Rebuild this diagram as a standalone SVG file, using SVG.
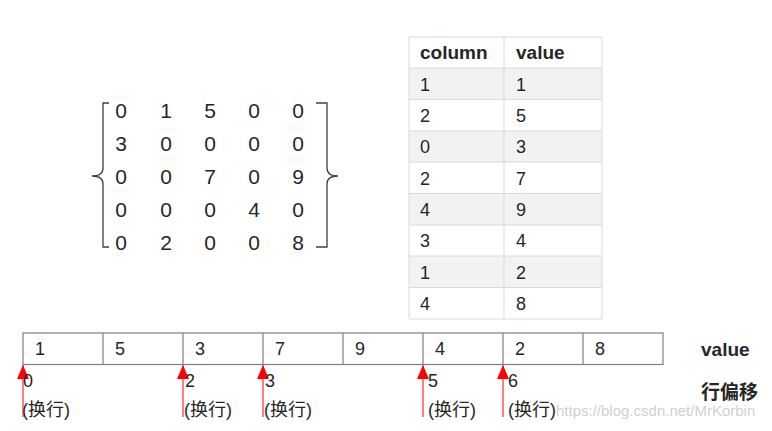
<svg xmlns="http://www.w3.org/2000/svg" width="772" height="431" viewBox="0 0 772 431">
<style>
.t{font-family:"Liberation Sans","Noto Sans CJK SC",Arial,sans-serif;fill:#262626}
.m{font-size:21px;text-anchor:middle}
.c{font-size:18px}
.h{font-size:19px;font-weight:bold}
.grid{stroke:#d9d9d9;stroke-width:1;fill:none}
.cell{fill:#fff;stroke:#7f7f7f;stroke-width:1.2}
.br{fill:none;stroke:#404040;stroke-width:1.3}
.arr{stroke:#ff0000;stroke-width:1;fill:none}
.wm{font-family:"Liberation Sans",Arial,sans-serif;font-size:15px;fill:#d0d0d0}
</style>
<defs>
<marker id="ah" markerWidth="14" markerHeight="12" refX="14" refY="6" orient="auto" markerUnits="userSpaceOnUse" viewBox="0 0 14 12">
<path d="M0,0 L14,6 L0,12 Z" fill="#ff0000"/>
</marker>
</defs>
<rect width="772" height="431" fill="#fff"/>

<g id="matrix">
<path class="br" d="M109,103 H103 V168 Q103,176 92,176 Q103,176 103,184 V247 H109"/>
<path class="br" d="M316,103 H327 V168 Q327,176 338,176 Q327,176 327,184 V247 H316"/>
<g class="t m">
<text x="121" y="118">0</text><text x="166" y="118">1</text><text x="210" y="118">5</text><text x="254" y="118">0</text><text x="298" y="118">0</text>
<text x="121" y="151">3</text><text x="166" y="151">0</text><text x="210" y="151">0</text><text x="254" y="151">0</text><text x="298" y="151">0</text>
<text x="121" y="184">0</text><text x="166" y="184">0</text><text x="210" y="184">7</text><text x="254" y="184">0</text><text x="298" y="184">9</text>
<text x="121" y="217">0</text><text x="166" y="217">0</text><text x="210" y="217">0</text><text x="254" y="217">4</text><text x="298" y="217">0</text>
<text x="121" y="250">0</text><text x="166" y="250">2</text><text x="210" y="250">0</text><text x="254" y="250">0</text><text x="298" y="250">8</text>
</g>
</g>

<g id="table">
<rect x="409" y="68" width="193" height="31.4" fill="#f2f2f2"/>
<rect x="409" y="131" width="193" height="31.3" fill="#f2f2f2"/>
<rect x="409" y="193.5" width="193" height="31.3" fill="#f2f2f2"/>
<rect x="409" y="256" width="193" height="31.4" fill="#f2f2f2"/>
<path class="grid" d="M409,37 H602 M409,68 H602 M409,99.5 H602 M409,131 H602 M409,162 H602 M409,193.5 H602 M409,225 H602 M409,256 H602 M409,287.5 H602 M409,319 H602 M409,37 V319 M504,37 V319 M602,37 V319"/>
<text class="t h" x="420" y="59">column</text><text class="t h" x="516" y="59">value</text>
<g class="t c">
<text x="420" y="91">1</text><text x="516" y="91">1</text>
<text x="420" y="122">2</text><text x="516" y="122">5</text>
<text x="420" y="153">0</text><text x="516" y="153">3</text>
<text x="420" y="185">2</text><text x="516" y="185">7</text>
<text x="420" y="216">4</text><text x="516" y="216">9</text>
<text x="420" y="247">3</text><text x="516" y="247">4</text>
<text x="420" y="279">1</text><text x="516" y="279">2</text>
<text x="420" y="310">4</text><text x="516" y="310">8</text>
</g>
</g>

<g id="array">
<rect class="cell" x="23" y="333" width="640" height="31.5"/>
<path class="cell" d="M103,333 V364.5 M183,333 V364.5 M263,333 V364.5 M343,333 V364.5 M423,333 V364.5 M503,333 V364.5 M583,333 V364.5"/>
<g class="t c">
<text x="35" y="355">1</text><text x="115" y="355">5</text><text x="195" y="355">3</text><text x="275" y="355">7</text>
<text x="355" y="355">9</text><text x="435" y="355">4</text><text x="515" y="355">2</text><text x="595" y="355">8</text>
</g>
</g>

<g id="connectors">
<line class="arr" x1="23" y1="417" x2="23" y2="365" marker-end="url(#ah)"/>
<line class="arr" x1="183" y1="417" x2="183" y2="365" marker-end="url(#ah)"/>
<line class="arr" x1="263" y1="417" x2="263" y2="365" marker-end="url(#ah)"/>
<line class="arr" x1="423" y1="417" x2="423" y2="365" marker-end="url(#ah)"/>
<line class="arr" x1="503" y1="417" x2="503" y2="365" marker-end="url(#ah)"/>
</g>

<g id="offsets" class="t c">
<text x="23" y="387">0</text><text x="22" y="416">(换行)</text>
<text x="185" y="387">2</text><text x="184" y="416">(换行)</text>
<text x="265" y="387">3</text><text x="264" y="416">(换行)</text>
<text x="428" y="387">5</text><text x="428" y="416">(换行)</text>
<text x="508" y="387">6</text><text x="508" y="416">(换行)</text>
</g>

<g id="labels">
<text class="t h" x="701" y="356">value</text>
<text class="t h" x="701" y="399">行偏移</text>
</g>

<text class="wm" x="556" y="416">https://blog.csdn.net/MrKorbin</text>
</svg>
